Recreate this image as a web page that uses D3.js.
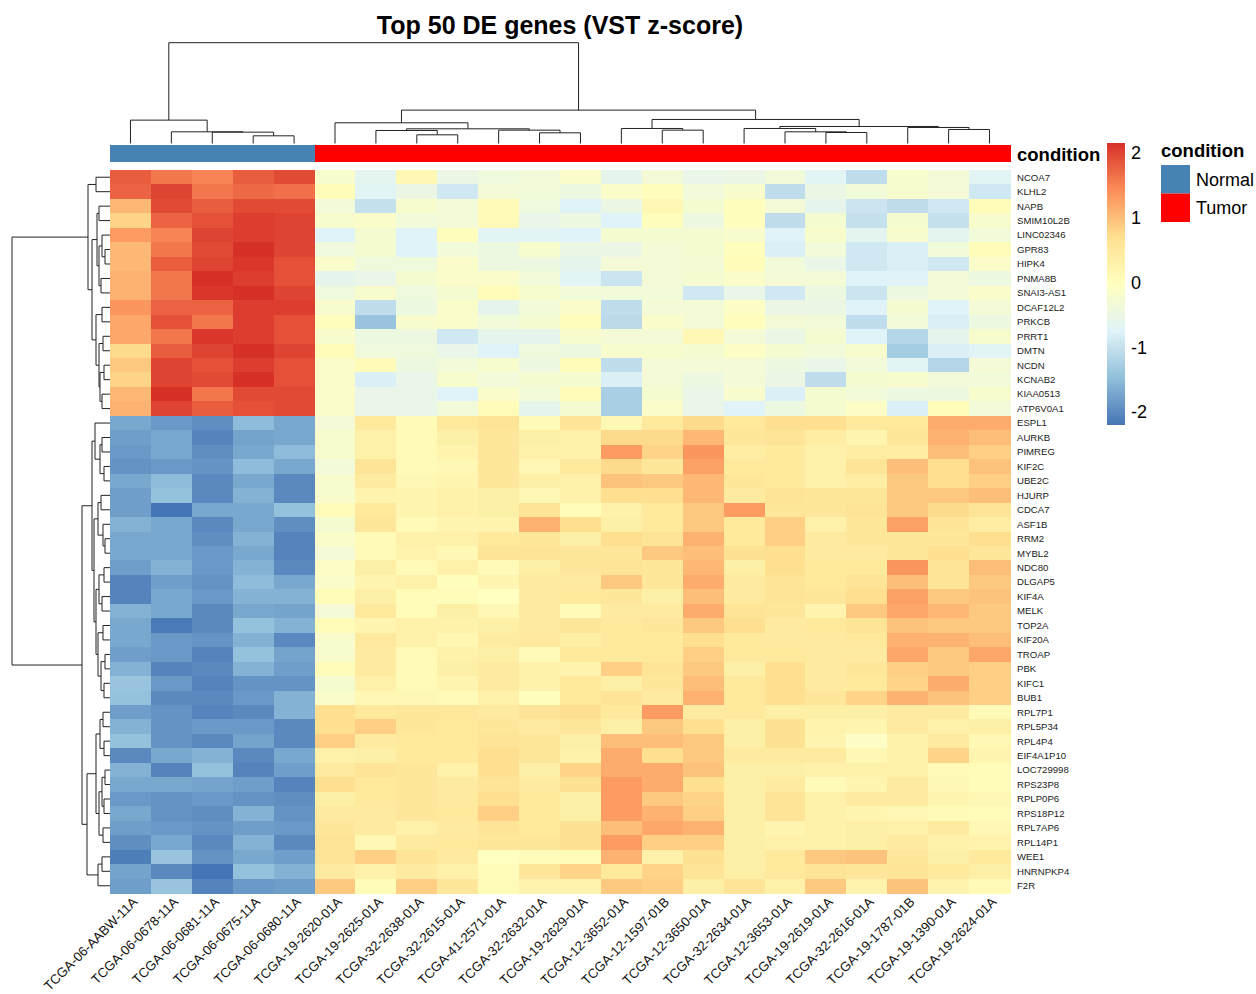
<!DOCTYPE html>
<html>
<head>
<meta charset="utf-8">
<script src="https://cdn.jsdelivr.net/npm/d3@7"></script>
<style>
  body { margin: 0; background: #fff; }
  text { font-family: "Liberation Sans", Arial, Helvetica, sans-serif; }
</style>
</head>
<body>
<svg id="chart" width="1256" height="994"></svg>
<script>
// ---- data -------------------------------------------------------------
const samples = [
  "TCGA-06-AABW-11A", "TCGA-06-0678-11A", "TCGA-06-0681-11A", "TCGA-06-0675-11A",
  "TCGA-06-0680-11A", "TCGA-19-2620-01A", "TCGA-19-2625-01A", "TCGA-32-2638-01A",
  "TCGA-32-2615-01A", "TCGA-41-2571-01A", "TCGA-32-2632-01A", "TCGA-19-2629-01A",
  "TCGA-12-3652-01A", "TCGA-12-1597-01B", "TCGA-12-3650-01A", "TCGA-32-2634-01A",
  "TCGA-12-3653-01A", "TCGA-19-2619-01A", "TCGA-32-2616-01A", "TCGA-19-1787-01B",
  "TCGA-19-1390-01A", "TCGA-19-2624-01A"
];
const conditions = [
  "Normal", "Normal", "Normal", "Normal", "Normal",
  "Tumor", "Tumor", "Tumor", "Tumor", "Tumor", "Tumor", "Tumor", "Tumor", "Tumor",
  "Tumor", "Tumor", "Tumor", "Tumor", "Tumor", "Tumor", "Tumor", "Tumor"
];
const conditionLevels = ["Normal", "Tumor"];
const conditionColors = ["#4682B4", "#FF0000"];

const genes = [
  "NCOA7", "KLHL2", "NAPB", "SMIM10L2B", "LINC02346", "GPR83", "HIPK4", "PNMA8B",
  "SNAI3-AS1", "DCAF12L2", "PRKCB", "PRRT1", "DMTN", "NCDN", "KCNAB2", "KIAA0513",
  "ATP6V0A1", "ESPL1", "AURKB", "PIMREG", "KIF2C", "UBE2C", "HJURP", "CDCA7",
  "ASF1B", "RRM2", "MYBL2", "NDC80", "DLGAP5", "KIF4A", "MELK", "TOP2A", "KIF20A",
  "TROAP", "PBK", "KIFC1", "BUB1", "RPL7P1", "RPL5P34", "RPL4P4", "EIF4A1P10",
  "LOC729998", "RPS23P8", "RPLP0P6", "RPS18P12", "RPL7AP6", "RPL14P1", "WEE1",
  "HNRNPKP4", "F2R"
];

// row-scaled VST expression, one row per gene, columns in sample order
const zScores = [
  [1.8,1.6,1.5,1.8,1.95,-0.2,-0.65,0.15,-0.5,-0.4,-0.35,-0.15,-0.6,-0.3,-0.55,-0.5,-0.35,-0.7,-1.05,-0.2,-0.3,-0.7],
  [1.75,2.0,1.6,1.7,1.65,0.05,-0.7,-0.5,-0.9,-0.3,-0.35,-0.45,-0.15,0.0,-0.35,-0.2,-1.05,-0.5,-0.35,-0.2,-0.3,-0.9],
  [1.05,1.95,1.8,1.95,1.95,-0.35,-1.0,-0.2,-0.3,0.1,-0.4,-0.75,-0.5,0.15,-0.25,0.0,-0.3,-0.6,-0.95,-1.05,-0.9,0.05],
  [0.8,1.75,1.9,2.05,2.0,-0.2,-0.15,-0.35,-0.3,0.1,-0.55,-0.45,-0.75,0.0,-0.45,0.0,-1.05,-0.25,-1.0,-0.25,-1.0,-0.2],
  [1.3,1.5,2.0,2.05,2.0,-0.75,-0.25,-0.75,0.0,-0.7,-0.7,-0.75,-0.25,-0.25,-0.25,-0.2,-0.75,-0.2,-0.65,-0.2,-0.65,-0.35],
  [1.05,1.6,1.95,2.15,2.0,-0.4,-0.25,-0.75,-0.35,-0.45,-0.2,-0.5,-0.5,-0.3,-0.25,0.0,-0.8,-0.35,-0.9,-0.8,-0.35,0.05],
  [1.05,1.8,2.0,2.1,1.9,-0.15,-0.4,-0.4,-0.15,-0.45,-0.45,-0.6,-0.3,-0.3,-0.3,0.05,-0.35,-0.55,-0.9,-0.8,-0.9,-0.15],
  [1.1,1.6,2.15,2.05,1.9,-0.6,-0.55,-0.25,-0.15,-0.15,-0.35,-0.7,-0.95,-0.3,-0.25,-0.15,-0.3,-0.3,-0.75,-0.75,-0.3,-0.45],
  [1.1,1.6,2.1,2.15,2.0,-0.4,-0.2,-0.4,-0.25,0.05,-0.2,-0.35,-0.35,-0.35,-0.9,-0.55,-0.9,-0.45,-0.95,-0.45,-0.3,-0.15],
  [1.35,1.75,1.75,2.05,2.05,-0.2,-1.05,-0.45,-0.15,-0.6,-0.35,-0.15,-1.05,-0.3,-0.3,-0.1,-0.5,-0.5,-0.75,-0.25,-0.75,-0.3],
  [1.2,1.9,1.6,2.05,1.9,0.0,-1.4,-0.2,-0.15,-0.35,-0.25,0.0,-1.1,-0.15,-0.3,0.0,-0.3,-0.35,-1.05,-0.35,-0.8,-0.45],
  [1.2,1.6,2.1,2.05,1.9,-0.2,-0.45,-0.45,-0.9,-0.6,-0.6,-0.2,-0.3,-0.3,0.15,-0.3,-0.5,-0.25,-0.75,-1.15,-0.6,-0.2],
  [0.75,1.8,2.0,2.15,2.0,0.05,-0.4,-0.4,-0.55,-0.75,-0.4,-0.45,-0.2,-0.2,-0.25,-0.1,-0.25,-0.35,-0.2,-1.3,-0.8,-0.7],
  [0.9,2.0,1.9,2.05,1.9,-0.15,0.1,-0.45,-0.35,-0.2,-0.45,0.05,-1.05,-0.3,-0.3,-0.3,-0.45,-0.55,-0.35,-0.7,-1.15,-0.3],
  [0.8,2.0,1.95,2.15,1.9,-0.15,-0.8,-0.55,-0.2,-0.35,-0.25,-0.25,-0.8,-0.3,-0.45,-0.3,-0.5,-1.05,-0.25,-0.2,-0.35,-0.35],
  [1.05,2.15,1.6,1.95,1.95,-0.15,-0.55,-0.55,-0.75,-0.15,-0.35,0.05,-1.25,-0.25,-0.55,-0.2,-0.8,-0.25,-0.35,-0.45,-0.45,-0.2],
  [1.1,2.0,1.8,1.9,1.95,-0.15,-0.55,-0.55,-0.35,0.05,-0.6,-0.25,-1.25,-0.15,-0.55,-0.75,-0.45,-0.25,-0.1,-0.8,0.05,-0.35],
  [-1.7,-1.85,-1.95,-1.5,-1.7,-0.3,0.5,0.1,0.5,0.6,0.1,0.6,0.15,0.5,0.75,0.5,0.7,0.7,0.5,0.5,1.15,1.15],
  [-1.8,-1.7,-2.05,-1.75,-1.7,-0.2,0.3,0.1,0.35,0.55,0.35,0.3,0.75,0.75,1.05,0.55,0.6,0.4,0.2,0.55,1.1,1.0],
  [-1.85,-1.7,-1.95,-1.7,-1.5,-0.2,0.3,0.1,0.25,0.55,0.3,0.3,1.3,0.8,1.35,0.4,0.5,0.3,0.4,0.4,1.0,0.85],
  [-1.9,-1.85,-1.9,-1.5,-1.7,-0.35,0.6,0.1,0.15,0.55,0.15,0.5,0.75,0.55,1.25,0.5,0.5,0.3,0.6,1.0,0.7,0.95],
  [-1.7,-1.5,-2.0,-1.7,-2.0,-0.2,0.45,0.15,0.2,0.55,0.35,0.3,0.95,0.9,1.05,0.55,0.5,0.3,0.4,0.9,0.7,0.85],
  [-1.8,-1.45,-2.0,-1.6,-2.0,-0.2,0.25,0.2,0.3,0.35,0.15,0.3,0.7,0.7,1.05,0.45,0.6,0.55,0.55,0.9,0.9,1.0],
  [-1.8,-2.2,-1.7,-1.7,-1.45,0.05,0.5,0.2,0.3,0.35,0.6,0.05,0.3,0.5,0.9,1.3,0.55,0.55,0.6,0.9,0.75,0.6],
  [-1.6,-1.7,-2.0,-1.7,-1.95,-0.25,0.55,0.1,0.2,0.25,1.1,0.7,0.35,0.5,0.9,0.5,0.85,0.3,0.55,1.25,0.6,0.4],
  [-1.7,-1.7,-1.95,-1.6,-2.05,-0.15,0.1,0.3,0.3,0.5,0.55,0.35,0.7,0.6,1.1,0.5,0.85,0.45,0.55,0.55,0.55,0.7],
  [-1.7,-1.7,-1.85,-1.7,-2.05,-0.3,0.1,0.25,0.15,0.6,0.6,0.55,0.55,0.9,1.0,0.65,0.7,0.45,0.45,0.55,0.7,0.55],
  [-1.8,-1.6,-1.85,-1.6,-2.0,-0.1,0.35,0.1,0.3,0.1,0.35,0.55,0.6,0.55,1.05,0.35,0.7,0.5,0.5,1.35,0.6,1.0],
  [-2.05,-1.8,-1.9,-1.5,-1.7,-0.15,0.2,0.3,0.0,0.2,0.45,0.45,0.9,0.55,1.15,0.45,0.6,0.5,0.6,1.0,0.6,0.9],
  [-2.05,-1.7,-1.85,-1.6,-1.6,0.05,0.35,0.05,0.05,-0.05,0.45,0.5,0.55,0.35,1.0,0.45,0.6,0.55,0.7,1.25,0.9,0.95],
  [-1.6,-1.7,-2.0,-1.7,-1.75,-0.3,0.5,0.05,0.35,0.15,0.45,0.1,0.45,0.45,1.15,0.6,0.55,0.25,0.9,1.2,1.05,0.9],
  [-1.7,-2.15,-2.0,-1.45,-1.6,0.05,0.2,0.3,0.3,0.35,0.45,0.55,0.5,0.55,0.9,0.7,0.45,0.5,0.6,0.95,0.9,0.9],
  [-1.7,-1.85,-1.9,-1.6,-2.0,-0.2,0.5,0.3,0.15,0.45,0.5,0.35,0.5,0.5,0.7,0.5,0.45,0.45,0.5,1.1,1.1,1.0],
  [-1.8,-1.85,-2.05,-1.45,-1.75,-0.2,0.45,0.1,0.3,0.35,0.1,0.5,0.5,0.5,0.85,0.5,0.5,0.45,0.45,1.2,0.9,1.2],
  [-1.6,-2.05,-2.0,-1.6,-1.8,0.05,0.45,0.1,0.35,0.45,0.3,0.25,0.85,0.6,0.9,0.35,0.7,0.45,0.55,0.85,0.9,0.85],
  [-1.4,-1.85,-2.05,-1.9,-1.9,-0.25,0.3,0.1,0.2,0.45,0.3,0.5,0.35,0.55,1.0,0.5,0.7,0.45,0.5,0.8,1.15,0.85],
  [-1.45,-2.0,-2.0,-1.85,-1.6,-0.15,0.15,0.15,0.1,0.3,0.0,0.5,0.6,0.45,1.1,0.5,0.7,0.55,0.8,1.1,0.95,0.85],
  [-1.8,-1.9,-2.05,-2.0,-1.6,0.7,0.5,0.55,0.55,0.45,0.6,0.7,0.5,1.3,0.45,0.5,0.35,0.35,0.35,0.45,0.45,0.1],
  [-1.6,-1.9,-1.85,-1.85,-2.0,0.7,0.85,0.55,0.5,0.55,0.45,0.55,0.35,0.9,0.7,0.35,0.65,0.25,0.2,0.45,0.3,0.35],
  [-1.45,-1.9,-2.0,-1.75,-2.0,0.85,0.45,0.5,0.5,0.6,0.55,0.35,1.0,1.0,0.9,0.35,0.65,0.2,-0.1,0.3,0.45,0.15],
  [-2.0,-1.7,-1.6,-2.0,-1.7,0.3,0.35,0.5,0.5,0.7,0.55,0.3,1.15,0.7,0.9,0.45,0.45,0.45,0.15,0.3,0.8,0.2],
  [-1.6,-2.05,-1.45,-2.05,-1.8,0.45,0.6,0.55,0.3,0.7,0.35,0.8,1.15,1.15,0.95,0.35,0.35,0.3,0.3,0.3,0.1,0.05],
  [-1.7,-1.7,-1.75,-1.8,-2.05,0.7,0.5,0.55,0.45,0.6,0.45,0.65,1.3,1.15,0.7,0.35,0.45,0.1,0.2,0.45,0.15,0.05],
  [-1.85,-1.9,-1.85,-1.9,-1.95,0.35,0.5,0.55,0.45,0.7,0.5,0.35,1.3,0.9,0.8,0.35,0.6,0.3,0.45,0.45,0.2,0.15],
  [-1.7,-1.9,-1.95,-1.6,-1.9,0.45,0.45,0.55,0.5,0.85,0.5,0.35,1.3,1.1,0.85,0.35,0.6,0.3,0.2,0.15,0.1,0.05],
  [-1.8,-1.85,-1.9,-1.8,-1.85,0.55,0.45,0.3,0.45,0.6,0.5,0.65,1.0,1.2,1.1,0.35,0.2,0.3,0.35,0.3,0.45,0.15],
  [-1.95,-1.7,-2.0,-1.6,-2.0,0.6,0.15,0.45,0.5,0.55,0.55,0.65,1.3,0.85,0.85,0.35,0.3,0.3,0.35,0.45,0.3,0.25],
  [-2.1,-1.4,-1.9,-1.7,-1.8,0.6,0.85,0.6,0.45,-0.05,0.05,0.05,1.1,0.3,0.65,0.35,0.5,0.9,0.95,0.55,0.35,0.5],
  [-1.75,-2.0,-2.2,-1.45,-1.6,0.45,0.3,0.45,0.3,0.05,0.55,0.8,0.5,0.8,0.6,0.35,0.5,0.6,0.55,0.6,0.5,0.35],
  [-1.8,-1.4,-2.05,-1.85,-1.8,0.9,0.05,0.85,0.55,0.05,0.25,0.25,0.9,0.85,0.35,0.6,0.3,0.9,0.25,0.95,0.25,0.1]
];

// hierarchical clustering results: [left, right, mergeHeight]; leaves are indices
const sampleTree = [
  [0, [1, [2, [3, 4, 23], 34], 35], 70],
  [
    [5, [[6, [7, 8, 26], 39], [9, [10, 11, 32], 40], 44], 62],
    [[12, [13, 14, 40], 45], [[15, [16, [17, 18, 33], 35], 45], [19, [20, 21, 42], 48], 51], 72],
    100
  ],
  302
];

const geneTree = [
  [
    [0, 1, 14],
    [
      [[2, 3, 11], [[4, [5, 6, 5], 8], [7, 8, 9], 11], 13],
      [[9, 10, 8], [[11, 12, 7], [[13, 14, 6], [15, 16, 8], 10], 11], 14],
      18
    ],
    22
  ],
  [
    [
      [17, [[18, 19, 8], [20, 21, 6], 10], 15],
      [
        [[22, 23, 9], [24, [25, 26, 5], 7], 12],
        [[[27, 28, 6], [29, 30, 8], 11], [[31, 32, 7], [[33, 34, 5], [35, 36, 6], 9], 12], 14],
        16
      ],
      18
    ],
    [
      [[[37, 38, 7], [39, 40, 6], 10], [[[41, 42, 5], [43, 44, 6], 8], [45, 46, 7], 11], 14],
      [[47, 48, 8], 49, 12],
      23
    ],
    28
  ],
  98
];

const legendTicks = [-2, -1, 0, 1, 2];
const zRange = [-2.2, 2.15];
const palette = ["#4575B4", "#91BFDB", "#E0F3F8", "#FFFFBF", "#FEE090", "#FC8D59", "#D73027"];

// ---- layout -----------------------------------------------------------
const svg = d3.select("#chart");
const heat = { left: 110, right: 1010, top: 170, bottom: 893 };

const x = d3.scaleBand().domain(d3.range(samples.length)).range([heat.left, heat.right]);
const y = d3.scaleBand().domain(d3.range(genes.length)).range([heat.top, heat.bottom]);

const stops = d3.range(palette.length).map(i => zRange[0] + i * (zRange[1] - zRange[0]) / (palette.length - 1));
const color = d3.scaleLinear().domain(stops).range(palette).interpolate(d3.interpolateRgb).clamp(true);
const condColor = d3.scaleOrdinal().domain(conditionLevels).range(conditionColors);

// title
svg.append("text")
  .attr("x", 560).attr("y", 34)
  .attr("text-anchor", "middle")
  .style("font-weight", "bold").style("font-size", "25px")
  .text("Top 50 DE genes (VST z-score)");

// heatmap cells
const cells = [];
zScores.forEach((row, r) => row.forEach((v, c) => cells.push({ r, c, v })));
svg.append("g").attr("shape-rendering", "crispEdges")
  .selectAll("rect").data(cells).join("rect")
  .attr("x", d => x(d.c)).attr("y", d => y(d.r))
  .attr("width", x.bandwidth() + 0.5).attr("height", y.bandwidth() + 0.5)
  .attr("fill", d => color(d.v));

// condition annotation strip
svg.append("g").attr("shape-rendering", "crispEdges")
  .selectAll("rect").data(conditions).join("rect")
  .attr("x", (d, i) => x(i)).attr("y", 144.5)
  .attr("width", x.bandwidth() + 0.5).attr("height", 17.5)
  .attr("fill", d => condColor(d));
svg.append("text")
  .attr("x", 1017).attr("y", 155).attr("dy", "0.35em")
  .style("font-weight", "bold").style("font-size", "18.5px")
  .text("condition");

// dendrograms
function drawTree(g, tree, leafPos, heightScale, vertical) {
  const paths = [];
  function walk(node) {
    if (typeof node === "number") return { p: leafPos(node), h: 0 };
    const a = walk(node[0]), b = walk(node[1]), h = node[2];
    const H = heightScale(h), ha = heightScale(a.h), hb = heightScale(b.h);
    if (vertical) paths.push(`M${a.p},${ha}V${H}H${b.p}V${hb}`);
    else paths.push(`M${ha},${a.p}H${H}V${b.p}H${hb}`);
    return { p: (a.p + b.p) / 2, h };
  }
  walk(tree);
  g.selectAll("path").data(paths).join("path")
    .attr("d", d => d).attr("fill", "none")
    .attr("stroke", "#222").attr("stroke-width", 1);
}

const colHeight = d3.scaleLinear().domain([0, sampleTree[2]]).range([143.5, 42.7]);
drawTree(svg.append("g"), sampleTree, i => x(i) + x.bandwidth() / 2, colHeight, true);

const rowHeight = d3.scaleLinear().domain([0, geneTree[2]]).range([heat.left, 12]);
drawTree(svg.append("g"), geneTree, i => y(i) + y.bandwidth() / 2, rowHeight, false);

// gene labels
svg.append("g").selectAll("text").data(genes).join("text")
  .attr("x", 1017).attr("y", (d, i) => y(i) + y.bandwidth() / 2).attr("dy", "0.35em")
  .style("font-size", "9.6px").attr("fill", "#222")
  .text(d => d);

// sample labels, rotated 45 degrees
svg.append("g").selectAll("text").data(samples).join("text")
  .attr("transform", (d, i) => `translate(${x(i) + x.bandwidth() / 2 + 1},896) rotate(-45)`)
  .attr("text-anchor", "end").attr("dy", "0.72em")
  .style("font-size", "13.2px").attr("fill", "#111")
  .text(d => d);

// colour key
const keyScale = d3.scaleLinear().domain(zRange).range([425, 143]);
const grad = svg.append("defs").append("linearGradient")
  .attr("id", "zgrad").attr("x1", 0).attr("y1", 1).attr("x2", 0).attr("y2", 0);
grad.selectAll("stop").data(stops).join("stop")
  .attr("offset", (d, i) => i / (stops.length - 1))
  .attr("stop-color", d => color(d));
svg.append("rect")
  .attr("x", 1107).attr("y", keyScale(zRange[1]))
  .attr("width", 18).attr("height", keyScale(zRange[0]) - keyScale(zRange[1]))
  .attr("fill", "url(#zgrad)");
svg.append("g").selectAll("text").data(legendTicks).join("text")
  .attr("x", 1131).attr("y", d => keyScale(d)).attr("dy", "0.35em")
  .style("font-size", "18px")
  .text(d => d);

// condition legend
const leg = svg.append("g");
leg.append("text")
  .attr("x", 1161).attr("y", 151).attr("dy", "0.35em")
  .style("font-weight", "bold").style("font-size", "18.5px")
  .text("condition");
leg.selectAll("rect").data(conditionLevels).join("rect")
  .attr("x", 1161).attr("y", (d, i) => 165 + i * 28.5)
  .attr("width", 29).attr("height", 28.5)
  .attr("fill", d => condColor(d));
leg.selectAll("text.lab").data(conditionLevels).join("text")
  .attr("class", "lab")
  .attr("x", 1196).attr("y", (d, i) => 179.5 + i * 28.5).attr("dy", "0.35em")
  .style("font-size", "18px")
  .text(d => d);
</script>
</body>
</html>
